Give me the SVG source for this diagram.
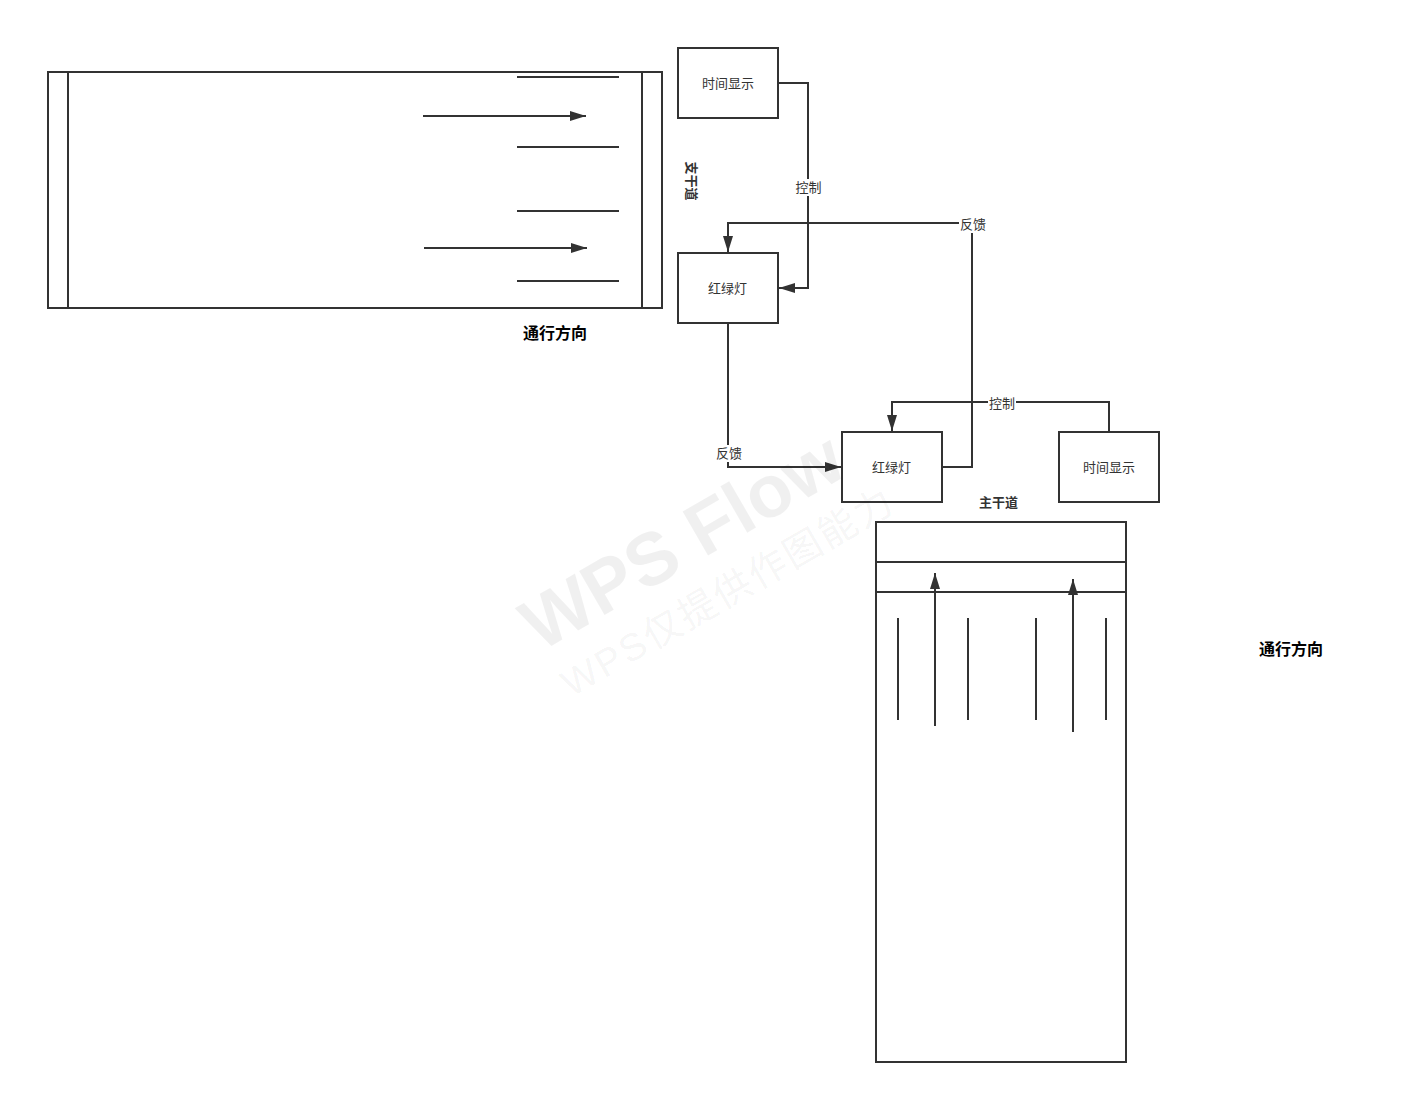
<svg xmlns="http://www.w3.org/2000/svg" width="1402" height="1094" viewBox="0 0 1402 1094">
<style>
text{font-family:"Liberation Sans","Noto Sans CJK SC",sans-serif;fill:#333;text-anchor:middle;dominant-baseline:central}
.n{font-size:13px}
.b{font-size:13px;font-weight:bold}
.t{font-size:16px;font-weight:bold;fill:#000}
.box{fill:#fff;stroke:#323232;stroke-width:2}
.ln{fill:none;stroke:#323232;stroke-width:2}
.lb{fill:#fff}
text.w1{fill:#000;fill-opacity:.06;font-size:74px;font-weight:bold}
text.w2{fill:#000;fill-opacity:.055;font-size:38px;letter-spacing:2.500px}
</style>
<defs>
<marker id="a" markerUnits="userSpaceOnUse" markerWidth="16" markerHeight="12" refX="16" refY="6" orient="auto"><path d="M0 1L16 6L0 11Z" fill="#323232"/></marker>
</defs>
<rect width="1402" height="1094" fill="#fff"/>
<g id="road-branch">
<rect class="box" x="48" y="72" width="614" height="236"/>
<path class="ln" d="M68 72V308M642 72V308M517 77H619M517 147H619M517 211H619M517 281H619"/>
<path class="ln" d="M423 116H586" marker-end="url(#a)"/>
<path class="ln" d="M424 248H587" marker-end="url(#a)"/>
</g>
<g id="road-main">
<rect class="box" x="876" y="522" width="250" height="540"/>
<path class="ln" d="M876 562H1126M876 592H1126M898 618V720M968 618V720M1036 618V720M1106 618V720"/>
<path class="ln" d="M935 726V573" marker-end="url(#a)"/>
<path class="ln" d="M1073 732V579" marker-end="url(#a)"/>
</g>
<g id="connectors">
<path class="ln" d="M778 83H808V288H779" marker-end="url(#a)"/>
<path class="ln" d="M942 467H972V223H728V252" marker-end="url(#a)"/>
<path class="ln" d="M728 323V467H841" marker-end="url(#a)"/>
<path class="ln" d="M1109 432V402H892V431" marker-end="url(#a)"/>
<rect class="lb" x="795" y="179" width="27" height="17"/><text class="n" x="808.500" y="187.500">控制</text>
<rect class="lb" x="959" y="215" width="27" height="18"/><text class="n" x="973" y="224.500">反馈</text>
<rect class="lb" x="715" y="445" width="27" height="17"/><text class="n" x="729" y="453.500">反馈</text>
<rect class="lb" x="988" y="395" width="28" height="17"/><text class="n" x="1002" y="403.500">控制</text>
</g>
<g id="time1"><rect class="box" x="678" y="48" width="100" height="70"/><text class="n" x="728" y="83">时间显示</text></g>
<g id="light1"><rect class="box" x="678" y="253" width="100" height="70"/><text class="n" x="727.500" y="288">红绿灯</text></g>
<g id="light2"><rect class="box" x="842" y="432" width="100" height="70"/><text class="n" x="891.500" y="467">红绿灯</text></g>
<g id="time2"><rect class="box" x="1059" y="432" width="100" height="70"/><text class="n" x="1109" y="467">时间显示</text></g>
<g id="labels">
<text class="b" x="998.500" y="502.500">主干道</text>
<text class="b" transform="translate(691 181) rotate(90)">支干道</text>
<text class="t" x="555" y="333">通行方向</text>
<text class="t" x="1291" y="649">通行方向</text>
</g>
<g id="watermark">
<text class="w1" transform="translate(682 541) rotate(-30)">WPS Flow</text>
<text class="w2" transform="translate(728 592) rotate(-30)">WPS仅提供作图能力</text>
</g>
</svg>
